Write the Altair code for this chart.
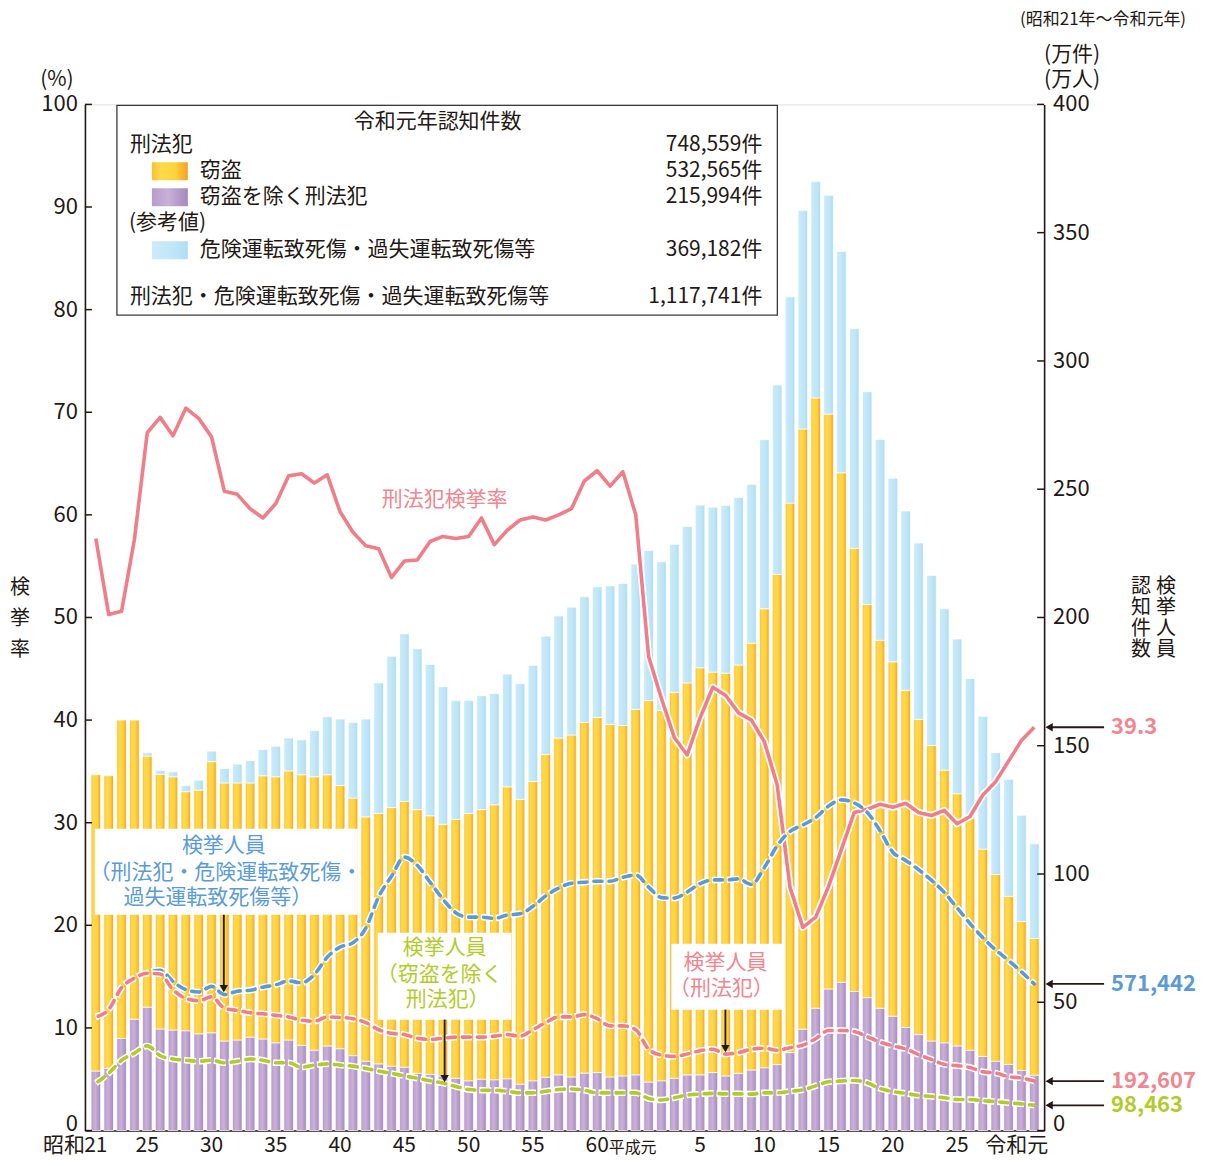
import altair as alt
import pandas as pd

FONT = "Noto Sans CJK JP"
INK = "#231815"
OX, OY = 85, 104          # plot-area origin on the page
W, H = 960, 1027

# ---------------- data ----------------
years = list(range(1946, 2020))

# 窃盗を除く刑法犯 認知件数 (万件)
excl_theft = [
    23.2, 24.2, 35.9, 43.4, 48.1, 39.6, 39.2, 38.9, 37.7, 38.1,
    34.9, 35.3, 36.4, 35.7, 34.2, 35.3, 33.2, 31.3, 33.0, 31.9,
    29.2, 27.0, 26.0, 25.1, 24.7, 22.3, 21.9, 21.3, 20.4, 19.4,
    20.0, 19.8, 20.2, 18.1, 19.4, 20.8, 21.7, 20.9, 22.4, 22.6,
    20.9, 21.3, 21.7, 18.9, 19.4, 20.4, 21.7, 21.7, 22.6, 21.3,
    22.3, 23.6, 24.5, 25.7, 30.4, 39.5, 47.7, 55.2, 57.8, 54.2,
    51.8, 47.7, 44.6, 40.2, 37.4, 34.9, 34.2, 33.0, 31.3, 28.9,
    27.0, 25.8, 23.4, 21.5994]

# 刑法犯 認知件数 (窃盗 + 窃盗を除く刑法犯, 万件)
penal_total = [
    138.7, 138.3, 160.0, 160.0, 146.0, 138.9, 137.9, 132.1, 132.7, 143.8,
    135.5, 135.5, 135.5, 138.3, 137.9, 140.2, 138.7, 137.9, 138.7, 134.5,
    129.6, 122.3, 123.6, 125.9, 128.3, 125.1, 122.7, 119.4, 121.3, 123.6,
    125.1, 127.0, 134.0, 129.1, 136.1, 146.6, 153.0, 154.2, 159.1, 161.0,
    158.3, 157.9, 164.2, 167.6, 163.8, 170.8, 174.5, 180.4, 178.7, 178.3,
    181.5, 190.0, 203.4, 216.8, 244.6, 273.5, 285.6, 279.3, 256.4, 227.0,
    205.1, 191.1, 182.7, 171.6, 160.3, 150.1, 140.5, 131.3, 121.7, 109.7,
    99.8, 91.3, 81.5, 74.8559]

# 刑法犯 + 危険運転致死傷・過失運転致死傷等 (万件)
penal_plus_traffic = [
    138.7, 138.3, 160.0, 160.0, 147.2, 140.4, 139.8, 134.4, 136.6, 147.9,
    141.1, 142.8, 144.2, 148.5, 149.8, 153.0, 152.3, 155.9, 161.3, 160.4,
    159.1, 160.4, 174.5, 184.9, 193.6, 187.8, 181.7, 173.0, 167.6, 167.6,
    169.5, 170.4, 177.9, 174.2, 181.3, 192.7, 200.6, 204.0, 208.1, 211.9,
    212.3, 213.2, 220.8, 226.1, 221.7, 228.5, 235.5, 243.8, 243.0, 243.6,
    246.8, 251.9, 269.3, 290.6, 325.0, 358.6, 369.9, 364.6, 342.7, 312.6,
    288.0, 269.4, 254.3, 241.5, 229.0, 216.4, 203.4, 191.6, 176.2, 161.5,
    147.3, 136.9, 122.9, 111.7741]

# 刑法犯検挙率 (%)
clearance_rate = [
    57.7, 50.3, 50.6, 57.6, 68.0, 69.5, 67.7, 70.4, 69.4, 67.6,
    62.3, 62.0, 60.6, 59.7, 61.1, 63.8, 64.0, 63.1, 63.9, 60.3,
    58.3, 57.0, 56.7, 53.9, 55.5, 55.6, 57.4, 57.9, 57.7, 57.9,
    59.7, 57.1, 58.5, 59.5, 59.8, 59.5, 60.0, 60.6, 63.3, 64.3,
    62.8, 64.2, 60.0, 46.2, 42.1, 38.3, 36.6, 40.2, 43.2, 42.4,
    40.7, 40.0, 37.9, 33.7, 23.7, 19.8, 20.8, 23.8, 27.4, 31.0,
    31.3, 31.8, 31.5, 31.9, 31.0, 30.7, 31.2, 29.9, 30.6, 32.7,
    34.0, 36.0, 38.0, 39.3]

# 検挙人員 (万人)
arrest_all = [
    44.3, 47.2, 55.7, 59.4, 61.5, 62.5, 58.1, 54.9, 54.0, 56.2,
    53.0, 54.3, 54.7, 55.9, 56.8, 58.3, 57.6, 60.8, 67.6, 71.5,
    73.2, 78.9, 91.1, 99.1, 106.6, 103.4, 96.8, 90.2, 84.9, 83.2,
    83.2, 82.7, 84.0, 84.5, 87.4, 91.5, 94.5, 96.4, 96.8, 97.2,
    97.2, 98.7, 99.6, 94.9, 90.8, 90.6, 93.0, 96.2, 97.7, 97.7,
    98.1, 95.9, 102.5, 111.0, 116.6, 119.1, 122.0, 126.5, 128.9, 127.7,
    124.1, 116.9, 108.5, 105.3, 101.7, 97.6, 92.8, 86.8, 80.7, 75.2,
    70.4, 66.3, 61.9, 57.1442]
arrest_penal = [
    44.3, 47.2, 55.7, 59.4, 61.3, 61.0, 54.9, 51.5, 50.6, 52.1,
    47.7, 46.8, 45.9, 45.5, 44.9, 44.3, 43.0, 42.6, 44.3, 44.1,
    43.6, 42.1, 39.3, 37.9, 37.4, 36.0, 35.5, 36.0, 36.4, 36.4,
    36.4, 36.8, 37.4, 36.8, 39.3, 42.1, 44.3, 44.3, 45.2, 43.6,
    40.8, 40.8, 39.3, 31.7, 29.4, 28.9, 29.8, 31.1, 31.7, 29.8,
    30.4, 31.7, 32.1, 31.3, 32.3, 33.3, 35.8, 39.0, 39.0, 38.6,
    36.6, 34.5, 33.0, 31.8, 29.6, 27.7, 25.8, 25.3, 24.6, 22.9,
    22.4, 21.0, 20.5, 19.2607]
arrest_excl_theft = [
    18.5, 22.3, 27.4, 30.2, 33.0, 29.2, 27.9, 27.4, 27.0, 27.4,
    26.4, 27.0, 27.9, 27.4, 26.4, 26.4, 24.7, 25.5, 26.0, 25.5,
    25.1, 24.2, 23.2, 22.3, 21.3, 20.4, 19.4, 18.5, 17.2, 16.0,
    15.7, 15.7, 15.3, 14.7, 14.7, 15.3, 16.0, 16.2, 15.7, 14.7,
    14.7, 14.7, 14.7, 12.5, 11.9, 12.8, 13.8, 14.2, 14.5, 14.3,
    14.3, 14.2, 14.7, 14.7, 15.3, 15.9, 17.4, 19.0, 19.3, 19.5,
    18.6, 16.4, 15.2, 14.5, 13.7, 13.3, 12.8, 12.1, 12.1, 11.6,
    11.3, 10.8, 10.4, 9.8463]

# legend counts (令和元年)
legend_labels = ["刑法犯", "窃盗", "窃盗を除く刑法犯", "危険運転致死傷・過失運転致死傷等",
                 "刑法犯・危険運転致死傷・過失運転致死傷等"]
legend_counts = [748559, 532565, 215994, 369182, 1117741]

# x tick labels
tick_years = [1946, 1950, 1955, 1960, 1965, 1970, 1975, 1980, 1985, 1993, 1998, 2003, 2008, 2013]
tick_text = ["21", "25", "30", "35", "40", "45", "50", "55", "60", "5", "10", "15", "20", "25"]
era_years = [1946, 1989, 2019]
era_text = ["昭和", "平成元", "令和元"]

left_ticks = list(range(0, 101, 10))
right_ticks = list(range(0, 401, 50))

# end-value labels
end_rate = [39.3]
end_persons = [57.1442, 19.2607, 9.8463]

# ---------------- frames ----------------
df = pd.DataFrame({
    "year": years, "excl": excl_theft, "penal": penal_total, "incl": penal_plus_traffic,
    "rate": clearance_rate, "a_all": arrest_all, "a_pen": arrest_penal, "a_exc": arrest_excl_theft,
})
one = pd.DataFrame({"k": [0]})

# ---------------- scales / encodings ----------------
xs = alt.Scale(domain=[1945.54, 2019.38], nice=False, zero=False)
X = alt.X("year:Q", scale=xs,
          axis=alt.Axis(labels=False, ticks=False, grid=False, title=None,
                        domainColor=INK, domainWidth=1.6))
yR = alt.Scale(domain=[0, 400], nice=False, zero=True)
yL = alt.Scale(domain=[0, 100], nice=False, zero=True)

PINK = "#EF7E88"
PINK_T = "#F08690"
BLUE = "#5B9BD5"
GREEN = "#B2CB2B"


def grad(stops):
    return alt.LinearGradient(
        gradient="linear",
        stops=[alt.GradientStop(color=c, offset=o) for o, c in stops],
        x1=0, x2=1, y1=0, y2=0)


g_orange = grad([(0, "#F9BE35"), (0.25, "#FFD94C"), (0.65, "#FFD23E"), (1, "#F4A21F")])
g_purple = grad([(0, "#B89BCB"), (0.45, "#C9B1D8"), (1, "#A687BE")])
g_blue = grad([(0, "#CBEBF9"), (0.6, "#BFE6F7"), (1, "#AEDDF3")])

BAR = 9.6

bar_purple = alt.Chart(df).mark_bar(size=BAR, fill=g_purple, stroke="white", strokeWidth=0.7).encode(
    x=X,
    y=alt.Y("excl:Q", scale=yR,
            axis=alt.Axis(orient="right", values=right_ticks, ticks=False, grid=False, title=None,
                          labels=False, domainColor=INK, domainWidth=1.6)))
bar_orange = alt.Chart(df).mark_bar(size=BAR, fill=g_orange, stroke="white", strokeWidth=0.7).encode(
    x=X, y=alt.Y("penal:Q", scale=yR, axis=None), y2="excl:Q")
bar_blue = alt.Chart(df).transform_filter("datum.incl > datum.penal").mark_bar(
    size=BAR, fill=g_blue, stroke="white", strokeWidth=0.7).encode(
    x=X, y=alt.Y("incl:Q", scale=yR, axis=None), y2="penal:Q")


def px(v):
    return v - OX


def py(v):
    return v - OY


def label(s, X0, Y0, color=INK, size=21, align="center", weight="normal", baseline="middle"):
    return alt.Chart(one).mark_text(text=s, align=align, baseline=baseline, font=FONT,
                                    fontSize=size, color=color, fontWeight=weight).encode(
        x=alt.value(px(X0)), y=alt.value(py(Y0)))


def vertical(s, X0, Y_first, step, size=20):
    return [label(ch, X0, Y_first + i * step, size=size) for i, ch in enumerate(s)]


def box(x1, y1, x2, y2, fill="white", stroke=None):
    kw = dict(fill=fill)
    if stroke:
        kw.update(stroke=stroke, strokeWidth=1.3)
    return alt.Chart(one).mark_rect(**kw).encode(
        x=alt.value(px(x1)), x2=alt.value(px(x2)), y=alt.value(py(y1)), y2=alt.value(py(y2)))


def arrow_down(X0, y1, y2):
    shaft = alt.Chart(one).mark_rule(color=INK, strokeWidth=1.8).encode(
        x=alt.value(px(X0)), y=alt.value(py(y1)), y2=alt.value(py(y2) - 5))
    head = alt.Chart(one).mark_point(shape="triangle-down", filled=True, size=70,
                                     color=INK, opacity=1).encode(
        x=alt.value(px(X0)), y=alt.value(py(y2) - 4))
    return [shaft, head]


# annotation boxes (white) over the bars
boxes = [box(95, 829, 358, 915), box(378, 933, 512, 1020), box(672, 944, 783, 1010)]

# inward ticks
tick_left = alt.Chart(pd.DataFrame({"t": left_ticks})).mark_rule(color=INK, strokeWidth=1.5).encode(
    y=alt.Y("t:Q", scale=yL, axis=None), x=alt.value(0), x2=alt.value(7))
tick_right = alt.Chart(pd.DataFrame({"t": right_ticks})).mark_rule(color=INK, strokeWidth=1.5).encode(
    y=alt.Y("t:Q", scale=yR, axis=None), x=alt.value(W - 7), x2=alt.value(W))


# y-axis tick labels (the "0" label sits a little higher than its tick, as in the reference)
def axis_labels(ticks, scale, xpix, align):
    main = pd.DataFrame({"t": [t for t in ticks if t != 0]})
    zero = pd.DataFrame({"t": [0]})
    out = []
    for d, dy in ((main, 0), (zero, -7)):
        out.append(alt.Chart(d).mark_text(font=FONT, fontSize=22, color=INK, align=align,
                                          baseline="middle", dy=dy).encode(
            y=alt.Y("t:Q", scale=scale, axis=None), x=alt.value(xpix), text="t:Q"))
    return out


lab_left = axis_labels(left_ticks, yL, -7, "right")
lab_right = axis_labels(right_ticks, yR, W + 9, "left")

# clearance-rate line (left axis)
rate_halo = alt.Chart(df).mark_line(color="white", strokeWidth=7, strokeJoin="round").encode(
    x=X, y=alt.Y("rate:Q", scale=yL, axis=None))
rate_line = alt.Chart(df).mark_line(color=PINK, strokeWidth=3.6, strokeJoin="round").encode(
    x=X,
    y=alt.Y("rate:Q", scale=yL,
            axis=alt.Axis(orient="left", values=left_ticks, ticks=False, grid=False, title=None,
                          labels=False, domainColor=INK, domainWidth=1.6)))


def dashed(field, color):
    halo = alt.Chart(df).mark_line(color="white", strokeWidth=6.5, strokeDash=[12, 3],
                                   interpolate="monotone").encode(
        x=X, y=alt.Y(f"{field}:Q", scale=yR, axis=None))
    line = alt.Chart(df).mark_line(color=color, strokeWidth=3.6, strokeDash=[8, 7],
                                   strokeDashOffset=-2.5, strokeCap="round",
                                   interpolate="monotone").encode(
        x=X, y=alt.Y(f"{field}:Q", scale=yR, axis=None))
    return [halo, line]


# x labels
XL_Y = py(1146)
x_nums = alt.Chart(pd.DataFrame({"year": tick_years, "t": tick_text})).mark_text(
    font=FONT, fontSize=21, color=INK, align="center", baseline="middle").encode(
    x=X, y=alt.value(XL_Y), text="t:N")
x_era1 = alt.Chart(pd.DataFrame({"year": era_years[:1], "t": era_text[:1]})).mark_text(
    font=FONT, fontSize=21, color=INK, align="right", baseline="middle", dx=-11).encode(
    x=X, y=alt.value(XL_Y), text="t:N")
x_era2 = alt.Chart(pd.DataFrame({"year": era_years[1:2], "t": era_text[1:2]})).mark_text(
    font=FONT, fontSize=16, color=INK, align="right", baseline="middle", dx=8).encode(
    x=X, y=alt.value(XL_Y + 2), text="t:N")
x_era3 = alt.Chart(pd.DataFrame({"year": era_years[2:], "t": era_text[2:]})).mark_text(
    font=FONT, fontSize=21, color=INK, align="right", baseline="middle", dx=14).encode(
    x=X, y=alt.value(XL_Y), text="t:N")


# right-hand end labels with arrows
def end_label(values, texts, colors, scale):
    out = []
    for v, t, c in zip(values, texts, colors):
        d = pd.DataFrame({"v": [v], "t": [t]})
        out.append(alt.Chart(d).mark_rule(color=INK, strokeWidth=1.8).encode(
            y=alt.Y("v:Q", scale=scale, axis=None), x=alt.value(W + 5), x2=alt.value(W + 60)))
        out.append(alt.Chart(d).mark_point(shape="triangle-left", filled=True, size=70,
                                           color=INK, opacity=1).encode(
            y=alt.Y("v:Q", scale=scale, axis=None), x=alt.value(W + 5)))
        out.append(alt.Chart(d).mark_text(font=FONT, fontSize=22, fontWeight="bold", color=c,
                                          align="left", baseline="middle").encode(
            y=alt.Y("v:Q", scale=scale, axis=None), x=alt.value(W + 67), text="t:N"))
    return out


ends = end_label(end_rate, [f"{v:.1f}" for v in end_rate], [PINK_T], yL)
ends += end_label(end_persons, [f"{round(v * 10000):,}" for v in end_persons],
                  [BLUE, PINK_T, GREEN], yR)

# legend box
LX_R = 763
legend = [
    box(117, 105, 778, 315, stroke="#3a3a3a"),
    label("令和元年認知件数", 438, 122),
    label(legend_labels[0], 130, 145, align="left"),
    label(f"{legend_counts[0]:,}件", LX_R, 145, align="right"),
    box(152, 162, 188, 180, fill=g_orange),
    label(legend_labels[1], 200, 171, align="left"),
    label(f"{legend_counts[1]:,}件", LX_R, 171, align="right"),
    box(152, 188, 188, 206, fill=g_purple),
    label(legend_labels[2], 200, 197, align="left"),
    label(f"{legend_counts[2]:,}件", LX_R, 197, align="right"),
    label("(参考値)", 129, 223, align="left"),
    box(152, 241, 188, 259, fill=g_blue),
    label(legend_labels[3], 200, 250, align="left"),
    label(f"{legend_counts[3]:,}件", LX_R, 250, align="right"),
    label(legend_labels[4], 130, 297, align="left"),
    label(f"{legend_counts[4]:,}件", LX_R, 297, align="right"),
]

# annotation texts
annots = [
    label("検挙人員", 224, 846, color=BLUE),
    label("（刑法犯・危険運転致死傷・", 226, 873, color=BLUE),
    label("過失運転致死傷等）", 218, 898, color=BLUE),
    label("検挙人員", 445, 948, color=GREEN),
    label("（窃盗を除く", 440, 975, color=GREEN),
    label("刑法犯）", 448, 1000, color=GREEN),
    label("検挙人員", 726, 963, color=PINK_T),
    label("（刑法犯）", 722, 989, color=PINK_T),
    label("刑法犯検挙率", 445, 500, color=PINK_T),
]
arrows = arrow_down(224, 915, 993) + arrow_down(445, 1020, 1083) + arrow_down(726, 1010, 1053)

# axis titles / units
titles = [
    label("(%)", 57, 80),
    label("(万件)", 1073, 55),
    label("(万人)", 1073, 80),
    label("(昭和21年～令和元年)", 1104, 20, size=17),
] + vertical("検挙率", 20, 588, 31) + vertical("認知件数", 1142, 587, 21) \
  + vertical("検挙人員", 1167, 587, 21)

layers = ([bar_purple, bar_orange, bar_blue] + boxes + [tick_left, tick_right, rate_halo, rate_line]
          + dashed("a_all", BLUE) + dashed("a_pen", PINK) + dashed("a_exc", GREEN)
          + lab_left + lab_right
          + [x_nums, x_era1, x_era2, x_era3] + ends + legend + annots + arrows + titles)

chart = alt.layer(*layers).resolve_scale(y="independent").properties(
    width=W, height=H,
    padding={"left": OX - 8, "top": OY - 8, "right": 157, "bottom": 27},
    autosize=alt.AutoSizeParams(type="none"),
).configure_view(stroke=None).configure(font=FONT, background="white")

chart.save("out.html", embed_options={"renderer": "svg", "actions": False})
